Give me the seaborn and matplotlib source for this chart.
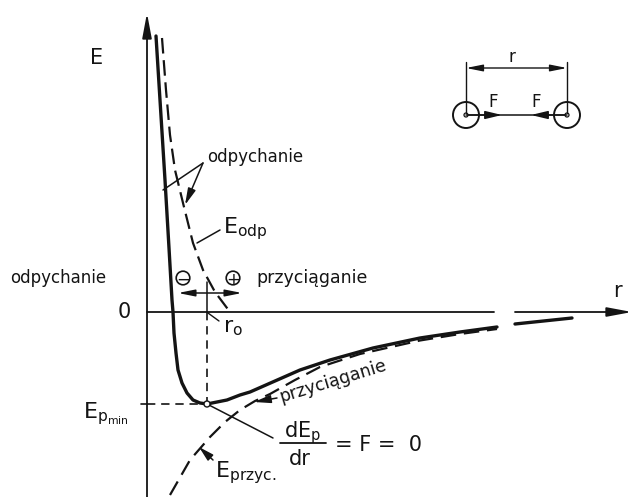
import matplotlib
matplotlib.use("Agg")
import matplotlib.pyplot as plt
from matplotlib.patches import Circle
import pandas as pd
import seaborn as sns

# Potential energy E_p(r) of a pair of atoms (arbitrary units)
ep_r = [0.09, 0.18, 0.22, 0.25, 0.26, 0.27, 0.29, 0.31, 0.35, 0.40, 0.46, 0.53, 0.60,
        0.80, 0.93, 1.03, 1.28, 1.53, 1.83, 2.26, 2.73, 3.13, 3.50]
ep_e = [2.76, 1.32, 0.64, 0.12, 0.00, -0.21, -0.41, -0.58, -0.71, -0.81, -0.88, -0.91, -0.92,
        -0.88, -0.83, -0.80, -0.69, -0.58, -0.48, -0.36, -0.26, -0.20, -0.15]
# the same curve beyond the break in the r axis
ep_tail_r = [3.68, 4.25]
ep_tail_e = [-0.12, -0.06]

# repulsive energy E_odp
odp_r = [0.15, 0.19, 0.23, 0.28, 0.36, 0.46, 0.56, 0.68, 0.83]
odp_e = [2.74, 2.22, 1.77, 1.42, 1.09, 0.69, 0.42, 0.20, 0.00]

# attractive energy E_przyc
przyc_r = [0.23, 0.43, 0.63, 0.78, 0.93, 1.08, 1.23, 1.48, 1.73, 2.13, 2.73, 3.13, 3.50]
przyc_e = [-1.83, -1.48, -1.25, -1.10, -0.98, -0.89, -0.82, -0.68, -0.55, -0.42, -0.285, -0.22, -0.17]

r0 = 0.60        # equilibrium distance
ep_min = -0.92   # depth of the well

sns.set_theme(style="white")
plt.rcParams["font.family"] = ["DejaVu Sans"]
plt.rcParams["mathtext.fontset"] = "dejavusans"

INK = "#141414"

fig = plt.figure(figsize=(6.32, 4.97), dpi=100)
ax = fig.add_axes([0, 0, 1, 1])
ax.set_xlim(-1.47, 4.85)
ax.set_ylim(-1.85, 3.12)
ax.set_aspect("equal")
ax.axis("off")


def curve(r, e, lw, dashes=None):
    df = pd.DataFrame({"r": r, "E": e})
    sns.lineplot(data=df, x="r", y="E", sort=False, estimator=None,
                 color=INK, lw=lw, ax=ax, solid_capstyle="round",
                 solid_joinstyle="round", dash_capstyle="butt")
    line = ax.get_lines()[-1]
    if dashes is not None:
        line.set_dashes(dashes)
    return line


# component curves
curve(odp_r, odp_e, 1.6, (7, 3))
curve(przyc_r, przyc_e, 1.6, (7, 3.5))
# resulting curve
curve(ep_r, ep_e, 2.4)
curve(ep_tail_r, ep_tail_e, 2.4)

# axes with arrows
arrow_kw = dict(color=INK, lw=1.3, shrinkA=0, shrinkB=0, mutation_scale=20)
ax.annotate("", xy=(0, 2.99), xytext=(0, -1.85),
            arrowprops=dict(arrowstyle="-|>,head_length=0.75,head_width=0.14", **arrow_kw))
ax.plot([0, 3.47], [0, 0], color=INK, lw=1.3)
ax.annotate("", xy=(4.85, 0), xytext=(3.68, 0),
            arrowprops=dict(arrowstyle="-|>,head_length=0.75,head_width=0.14", **arrow_kw))

ax.text(-0.50, 2.54, "E", fontsize=15, ha="center", va="center", color=INK)
ax.text(-0.23, 0.0, "0", fontsize=15, ha="center", va="center", color=INK)
ax.text(4.70, 0.21, "r", fontsize=15, ha="center", va="center", color=INK)

# r0 and the minimum
ax.plot([r0, r0], [0.30, 0], color=INK, lw=1.1)
ax.plot([r0, r0], [0, ep_min], color=INK, lw=1.2, dashes=(5, 3.5))
ax.plot([0, r0], [ep_min, ep_min], color=INK, lw=1.2, dashes=(5, 3.5))
ax.plot([-0.06, 0], [ep_min, ep_min], color=INK, lw=1.2)
ax.add_patch(Circle((r0, ep_min), 0.03, facecolor="white", edgecolor=INK, lw=1.0, zorder=5))

ax.text(-0.64, -1.06, r"E$_{\mathregular{p_{min}}}$", fontsize=16, ha="left",
        va="baseline", color=INK)
ax.text(0.76, -0.20, r"r$_{\mathregular{o}}$", fontsize=16, ha="left", va="baseline", color=INK)
ax.plot([0.61, 0.72], [-0.01, -0.09], color=INK, lw=1.0)

# direction of forces around r0
ax.annotate("", xy=(0.31, 0.19), xytext=(0.95, 0.19),
            arrowprops=dict(arrowstyle="<|-|>,head_length=0.5,head_width=0.1", color=INK,
                            lw=1.1, shrinkA=0, shrinkB=0, mutation_scale=20))
for cx, sign in [(0.36, "−"), (0.86, "+")]:
    ax.add_patch(Circle((cx, 0.34), 0.068, facecolor="none", edgecolor=INK, lw=1.2))
    ax.text(cx, 0.34, sign, fontsize=12, ha="center", va="center_baseline", color=INK)

ax.text(-1.37, 0.34, "odpychanie", fontsize=12, ha="left", va="center", color=INK)
ax.text(1.09, 0.34, "przyciąganie", fontsize=12.5, ha="left", va="center", color=INK)

# labels of the components
ax.text(0.60, 1.55, "odpychanie", fontsize=12, ha="left", va="center", color=INK)
ax.plot([0.56, 0.16], [1.49, 1.22], color=INK, lw=1.1)
ax.annotate("", xy=(0.38, 1.07), xytext=(0.56, 1.49),
            arrowprops=dict(arrowstyle="-|>,head_length=0.5,head_width=0.12", color=INK,
                            lw=1.1, shrinkA=0, shrinkB=0, mutation_scale=20))

ax.text(0.76, 0.79, r"E$_{\mathregular{odp}}$", fontsize=16, ha="left", va="baseline",
        color=INK)
ax.plot([0.73, 0.50], [0.82, 0.69], color=INK, lw=1.1)

ax.text(0.68, -1.65, r"E$_{\mathregular{przyc.}}$", fontsize=16, ha="left", va="baseline",
        color=INK)
ax.annotate("", xy=(0.52, -1.35), xytext=(0.66, -1.48),
            arrowprops=dict(arrowstyle="-|>,head_length=0.45,head_width=0.12", color=INK,
                            lw=1.1, shrinkA=0, shrinkB=0, mutation_scale=20))

ax.text(1.34, -0.90, "przyciąganie", fontsize=12.5, rotation=17, rotation_mode="anchor",
        ha="left", va="baseline", color=INK)
ax.annotate("", xy=(1.07, -0.90), xytext=(1.30, -0.86),
            arrowprops=dict(arrowstyle="-|>,head_length=0.5,head_width=0.12", color=INK,
                            lw=1.1, shrinkA=0, shrinkB=0, mutation_scale=20))

# condition of equilibrium
ax.plot([r0, 1.26], [ep_min, -1.26], color=INK, lw=1.1)
ax.text(1.56, -1.25, r"dE$_{\mathregular{p}}$", fontsize=15, ha="center", va="baseline",
        color=INK)
ax.plot([1.33, 1.79], [-1.31, -1.31], color=INK, lw=1.3)
ax.text(1.53, -1.53, "dr", fontsize=15, ha="center", va="baseline", color=INK)
ax.text(1.88, -1.31, "= F =  0", fontsize=15, ha="left", va="center_baseline", color=INK)

# inset: two atoms at distance r
a1, a2, ya = 3.19, 4.20, 1.97
for cx in (a1, a2):
    ax.add_patch(Circle((cx, ya), 0.13, facecolor="none", edgecolor=INK, lw=1.4))
    ax.add_patch(Circle((cx, ya), 0.02, facecolor="none", edgecolor=INK, lw=0.9))
    ax.plot([cx, cx], [ya + 0.02, 2.50], color=INK, lw=1.0)
ax.plot([a1 + 0.02, a2 - 0.02], [ya, ya], color=INK, lw=1.1)
ax.annotate("", xy=(3.55, ya), xytext=(a1, ya),
            arrowprops=dict(arrowstyle="-|>,head_length=0.5,head_width=0.12", color=INK,
                            lw=1.1, shrinkA=0, shrinkB=0, mutation_scale=20))
ax.annotate("", xy=(3.84, ya), xytext=(a2, ya),
            arrowprops=dict(arrowstyle="-|>,head_length=0.5,head_width=0.12", color=INK,
                            lw=1.1, shrinkA=0, shrinkB=0, mutation_scale=20))
ax.annotate("", xy=(a1, 2.44), xytext=(a2, 2.44),
            arrowprops=dict(arrowstyle="<|-|>,head_length=0.5,head_width=0.1", color=INK,
                            lw=1.0, shrinkA=0, shrinkB=0, mutation_scale=20))
ax.text(3.46, 2.10, "F", fontsize=12, ha="center", va="center", color=INK)
ax.text(3.89, 2.10, "F", fontsize=12, ha="center", va="center", color=INK)
ax.text(3.65, 2.55, "r", fontsize=12, ha="center", va="center", color=INK)

fig.savefig("out.png", dpi=100, facecolor="white")
